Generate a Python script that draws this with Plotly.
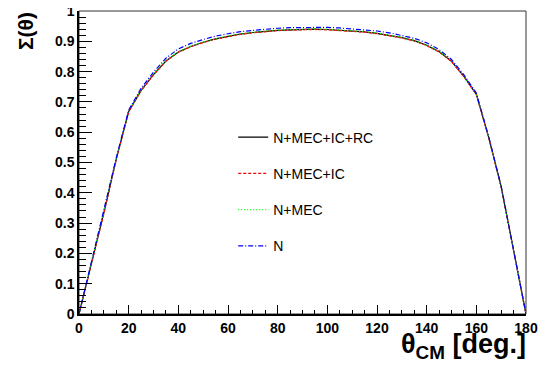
import plotly.graph_objects as go

theta = [0, 5, 10, 15, 20, 25, 30, 35, 40, 45, 50, 55, 60, 65, 70, 75, 80, 85, 90,
         95, 100, 105, 110, 115, 120, 125, 130, 135, 140, 145, 150, 155, 160, 165,
         170, 175, 180]

sig_full = [0, 0.167, 0.333, 0.511, 0.668, 0.738, 0.790, 0.835, 0.865, 0.883, 0.897,
            0.908, 0.917, 0.924, 0.929, 0.933, 0.936, 0.938, 0.940, 0.940, 0.939,
            0.937, 0.934, 0.931, 0.926, 0.920, 0.912, 0.902, 0.887, 0.866, 0.834,
            0.784, 0.725, 0.582, 0.420, 0.210, 0]

sig_ic = [0, 0.166, 0.332, 0.510, 0.667, 0.737, 0.789, 0.834, 0.864, 0.882, 0.896,
          0.907, 0.916, 0.923, 0.928, 0.932, 0.935, 0.937, 0.939, 0.939, 0.938,
          0.936, 0.933, 0.930, 0.925, 0.919, 0.911, 0.901, 0.886, 0.865, 0.833,
          0.783, 0.724, 0.581, 0.419, 0.209, 0]

sig_mec = [0, 0.168, 0.334, 0.512, 0.669, 0.739, 0.791, 0.836, 0.866, 0.884, 0.898,
           0.909, 0.918, 0.925, 0.930, 0.934, 0.937, 0.939, 0.941, 0.941, 0.940,
           0.938, 0.935, 0.932, 0.927, 0.921, 0.913, 0.903, 0.888, 0.867, 0.835,
           0.785, 0.726, 0.583, 0.421, 0.210, 0]

sig_n = [0, 0.169, 0.336, 0.515, 0.673, 0.745, 0.798, 0.844, 0.875, 0.893, 0.906,
         0.917, 0.925, 0.932, 0.936, 0.940, 0.943, 0.945, 0.946, 0.946, 0.946,
         0.944, 0.941, 0.938, 0.934, 0.928, 0.920, 0.910, 0.895, 0.873, 0.840,
         0.789, 0.729, 0.585, 0.422, 0.211, 0]

series_names = ["N+MEC+IC+RC", "N+MEC+IC", "N+MEC", "N"]
series_vals = [sig_full, sig_ic, sig_mec, sig_n]
series_colors = ["#000000", "#ff0000", "#00ff00", "#0000ff"]
series_dash = ["solid", "3px,2px", "1px,2px", "5px,2px,1px,2px"]

FONT = "Liberation Sans"

fig = go.Figure()
for i, (nm, vals, col, dash) in enumerate(zip(series_names, series_vals, series_colors, series_dash)):
    fig.add_trace(go.Scatter(
        x=theta, y=vals, mode="lines", name=nm,
        line=dict(color=col, width=1.2, dash=dash),
        legendgroup=f"g{i}",
    ))

# the page body has an 8px margin, so the figure is sized to fill the rest of the window
fig.update_layout(
    width=540, height=358,
    margin=dict(l=71, r=22, t=3, b=52, autoexpand=False),
    paper_bgcolor="white", plot_bgcolor="white",
    font=dict(family=FONT, color="black"),
    showlegend=True,
    legend=dict(
        x=0.345, xanchor="left", y=0.635, yanchor="top",
        bgcolor="rgba(0,0,0,0)", borderwidth=0,
        font=dict(family=FONT, size=14, color="black"),
        tracegroupgap=15, traceorder="grouped",
    ),
    xaxis=dict(
        range=[0, 180], dtick=20, tick0=0, automargin=False,
        ticklabeloverflow="allow",
        showgrid=False, zeroline=False,
        showline=True, linecolor="black", linewidth=1.5,
        ticks="inside", ticklen=9, tickwidth=1, tickcolor="black",
        tickfont=dict(family=FONT, size=14, color="black", weight="bold"),
        minor=dict(dtick=5, ticks="inside", ticklen=4.5, tickcolor="black", tickwidth=1, showgrid=False),
    ),
    yaxis=dict(
        range=[0, 1], dtick=0.1, tick0=0, automargin=False,
        ticklabeloverflow="allow",
        showgrid=False, zeroline=False,
        showline=True, linecolor="black", linewidth=1.5,
        ticks="inside", ticklen=13, tickwidth=1, tickcolor="black",
        tickfont=dict(family=FONT, size=14, color="black", weight="bold"),
        minor=dict(dtick=0.02, ticks="inside", ticklen=7, tickcolor="black", tickwidth=1, showgrid=False),
    ),
    shapes=[dict(type="rect", xref="paper", yref="paper", x0=0, x1=1, y0=0, y1=1,
                 line=dict(color="#333333", width=1), layer="below")],
    annotations=[
        dict(text="Σ(θ)", xref="paper", yref="paper", x=-0.118, y=1.004, xanchor="center",
             yanchor="top", textangle=-90, showarrow=False,
             font=dict(family=FONT, size=21, color="black", weight="bold")),
        dict(text="θ<sub>CM</sub> [deg.]", xref="paper", yref="paper", x=1.004, y=-0.168,
             xanchor="right", yanchor="bottom", showarrow=False,
             font=dict(family=FONT, size=27, color="black", weight="bold")),
    ],
)

fig.write_html("out.html")
